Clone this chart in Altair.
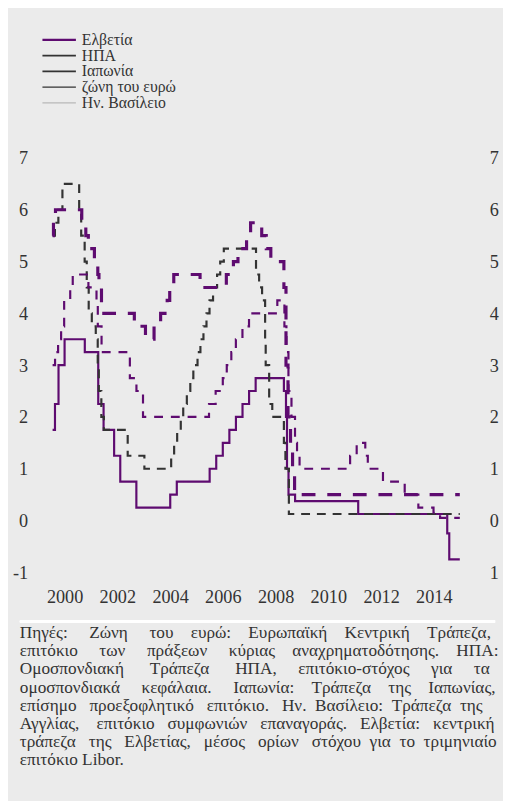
import altair as alt
import pandas as pd

# ---------------- data (step changes: date, rate) ----------------
end_date = "2015-06-10"

swiss_dates = ["2000-01-01", "2000-02-03", "2000-03-23", "2000-06-15", "2001-03-22", "2001-09-24",
               "2001-12-07", "2002-05-02", "2002-07-26", "2003-03-06", "2004-06-17", "2004-09-16",
               "2005-12-15", "2006-03-16", "2006-06-15", "2006-09-14", "2006-12-14", "2007-03-15",
               "2007-06-14", "2007-09-13", "2008-10-08", "2008-11-06", "2008-11-20", "2008-12-11",
               "2009-03-12", "2011-08-03", "2014-12-18", "2015-01-15"]
swiss_rates = [1.75, 2.25, 3.0, 3.5, 3.25, 2.25,
               1.75, 1.25, 0.75, 0.25, 0.5, 0.75,
               1.0, 1.25, 1.5, 1.75, 2.0, 2.25,
               2.5, 2.75, 2.5, 2.0, 1.0, 0.5,
               0.375, 0.125, -0.25, -0.75]

usa_dates = ["2000-01-01", "2000-02-02", "2000-03-21", "2000-05-16", "2001-01-03", "2001-01-31",
             "2001-03-20", "2001-04-18", "2001-05-15", "2001-06-27", "2001-08-21", "2001-09-17",
             "2001-10-02", "2001-11-06", "2001-12-11", "2002-11-06", "2003-06-25", "2004-06-30",
             "2004-08-10", "2004-09-21", "2004-11-10", "2004-12-14", "2005-02-02", "2005-03-22",
             "2005-05-03", "2005-06-30", "2005-08-09", "2005-09-20", "2005-11-01", "2005-12-13",
             "2006-01-31", "2006-03-28", "2006-05-10", "2006-06-29", "2007-09-18", "2007-10-31",
             "2007-12-11", "2008-01-22", "2008-01-30", "2008-03-18", "2008-04-30", "2008-10-08",
             "2008-10-29", "2008-12-16"]
usa_rates = [5.5, 5.75, 6.0, 6.5, 6.0, 5.5,
             5.0, 4.5, 4.0, 3.75, 3.5, 3.0,
             2.5, 2.0, 1.75, 1.25, 1.0, 1.25,
             1.5, 1.75, 2.0, 2.25, 2.5, 2.75,
             3.0, 3.25, 3.5, 3.75, 4.0, 4.25,
             4.5, 4.75, 5.0, 5.25, 4.75, 4.5,
             4.25, 3.5, 3.0, 2.25, 2.0, 1.5,
             1.0, 0.125]

euro_dates = ["2000-01-01", "2000-02-04", "2000-03-17", "2000-04-28", "2000-06-09", "2000-09-01",
              "2000-10-06", "2001-05-11", "2001-08-31", "2001-09-18", "2001-11-09", "2002-12-06",
              "2003-03-07", "2003-06-06", "2005-12-06", "2006-03-08", "2006-06-15", "2006-08-09",
              "2006-10-11", "2006-12-13", "2007-03-14", "2007-06-13", "2008-07-09", "2008-10-15",
              "2008-11-12", "2008-12-10", "2009-01-21", "2009-03-11", "2009-04-08", "2009-05-13",
              "2011-04-13", "2011-07-13", "2011-11-09", "2011-12-14", "2012-07-11", "2013-05-08",
              "2013-11-13", "2014-06-11", "2014-09-10"]
euro_rates = [3.0, 3.25, 3.5, 3.75, 4.25, 4.5,
              4.75, 4.5, 4.25, 3.75, 3.25, 2.75,
              2.5, 2.0, 2.25, 2.5, 2.75, 3.0,
              3.25, 3.5, 3.75, 4.0, 4.25, 3.75,
              3.25, 2.5, 2.0, 1.5, 1.25, 1.0,
              1.25, 1.5, 1.25, 1.0, 0.75, 0.5,
              0.25, 0.15, 0.05]

uk_dates = ["2000-01-01", "2000-01-13", "2000-02-10", "2001-02-08", "2001-04-05", "2001-05-10",
            "2001-08-02", "2001-09-18", "2001-10-04", "2001-11-08", "2003-02-06", "2003-07-10",
            "2003-11-06", "2004-02-05", "2004-05-06", "2004-06-10", "2004-08-05", "2005-08-04",
            "2006-08-03", "2006-11-09", "2007-01-11", "2007-05-10", "2007-07-05", "2007-12-06",
            "2008-02-07", "2008-04-10", "2008-10-08", "2008-11-06", "2008-12-04", "2009-01-08",
            "2009-02-05", "2009-03-05"]
uk_rates = [5.5, 5.75, 6.0, 5.75, 5.5, 5.25,
            5.0, 4.75, 4.5, 4.0, 3.75, 3.5,
            3.75, 4.0, 4.25, 4.5, 4.75, 4.5,
            4.75, 5.0, 5.25, 5.5, 5.75, 5.5,
            5.25, 5.0, 4.5, 3.0, 2.0, 1.5,
            1.0, 0.5]

legend_names = ["Ελβετία", "ΗΠΑ", "Ιαπωνία", "ζώνη του ευρώ", "Ην. Βασίλειο"]

x_label_years = [2000, 2002, 2004, 2006, 2008, 2010, 2012, 2014]
y_ticks = [-1, 0, 1, 2, 3, 4, 5, 6, 7]

footnote_lines = [
    "Πηγές: Ζώνη του ευρώ: Ευρωπαϊκή Κεντρική Τράπεζα,",
    "επιτόκιο των πράξεων κύριας αναχρηματοδότησης. ΗΠΑ:",
    "Ομοσπονδιακή Τράπεζα ΗΠΑ, επιτόκιο-στόχος για τα",
    "ομοσπονδιακά κεφάλαια. Ιαπωνία: Τράπεζα της Ιαπωνίας,",
    "επίσημο προεξοφλητικό επιτόκιο. Ην. Βασίλειο: Τράπεζα της",
    "Αγγλίας, επιτόκιο συμφωνιών επαναγοράς. Ελβετία: κεντρική",
    "τράπεζα της Ελβετίας, μέσος ορίων στόχου για το τριμηνιαίο",
    "επιτόκιο Libor.",
]
# extra (non-breaking) spaces per line, spread over its word gaps (justified paragraph)
justify_extra = [20, 18, 22, 17, 9, 11, 13, 0]

# ---------------- build tables ----------------
def series_frame(name, dates, rates):
    d = list(dates) + [end_date]
    r = list(rates) + [rates[-1]]
    return pd.DataFrame({"series": name, "date": d, "rate": r})

lines_df = pd.concat([
    series_frame("swiss", swiss_dates, swiss_rates),
    series_frame("usa", usa_dates, usa_rates),
    series_frame("euro", euro_dates, euro_rates),
    series_frame("uk", uk_dates, uk_rates),
], ignore_index=True)

def justify(line, total):
    words = line.split(" ")
    gaps = len(words) - 1
    if total == 0 or gaps == 0:
        return line
    out = words[0]
    for i, w in enumerate(words[1:]):
        n = total // gaps + (1 if i < total % gaps else 0)
        out += " " + "\u00a0" * n + w
    return out

legend_df = pd.DataFrame({"name": legend_names, "idx": list(range(len(legend_names)))})
foot_df = pd.DataFrame({"line": [justify(l, n) for l, n in zip(footnote_lines, justify_extra)],
                        "idx": list(range(len(footnote_lines)))})

PURPLE = "#5e0b70"
DARK = "#333333"
FONT = "'Liberation Serif', 'Times New Roman', 'DejaVu Serif', serif"
W, H = 454, 421

x_scale = alt.Scale(domain=[alt.DateTime(year=1999, month=5, date=10),
                            alt.DateTime(year=2016, month=4, date=17)])
y_scale = alt.Scale(domain=[-1, 7], nice=False, zero=False)

x_enc = alt.X("date:T", scale=x_scale,
              axis=alt.Axis(values=[alt.DateTime(year=y, month=6, date=15) for y in x_label_years],
                            format="%Y", title=None, domain=False, ticks=False, grid=False,
                            labelFont=FONT, labelFontSize=18.5, labelColor=DARK,
                            labelPadding=16, labelFlush=False))

base = alt.Chart(lines_df)

def line_layer(name, dash, width, color, axis):
    return base.transform_filter(alt.datum.series == name).mark_line(
        interpolate="step-after", strokeDash=dash, strokeWidth=width, color=color,
        strokeCap="butt", clip=False
    ).encode(
        x=x_enc,
        y=alt.Y("rate:Q", scale=y_scale, axis=axis),
    )

left_axis = alt.Axis(values=y_ticks, title=None, domain=False, ticks=False, grid=False,
                     labelFont=FONT, labelFontSize=18.5, labelColor=DARK, labelPadding=8,
                     labelExpr="toString(datum.value)", orient="left")
right_axis = alt.Axis(values=y_ticks, title=None, domain=False, ticks=False, grid=False,
                      labelFont=FONT, labelFontSize=18.5, labelColor=DARK, labelPadding=7,
                      labelExpr="toString(abs(datum.value))", orient="right")

swiss = line_layer("swiss", [1, 0], 2.2, PURPLE, left_axis)
usa = line_layer("usa", [9, 7], 2.2, DARK, None)
euro = line_layer("euro", [9, 8], 2.2, PURPLE, None)
uk = line_layer("uk", [14, 12], 3.2, PURPLE, None)

right = base.transform_filter(alt.datum.series == "swiss").mark_line(opacity=0).encode(
    x=alt.X("date:T", scale=x_scale),
    y=alt.Y("rate:Q", scale=y_scale, axis=right_axis),
)

# ---------------- legend (manual, above the plot) ----------------
leg_y = alt.Y("idx:Q", scale=alt.Scale(domain=[0, 4], range=[-120, -56]), axis=None)
leg_lines = alt.Chart(legend_df).mark_rule().encode(
    x=alt.value(7), x2=alt.value(41), y=leg_y,
    color=alt.Color("name:N", scale=alt.Scale(domain=legend_names,
                    range=[PURPLE, DARK, DARK, DARK, "#b8b8b8"]), legend=None),
    strokeWidth=alt.StrokeWidth("name:N", scale=alt.Scale(domain=legend_names,
                    range=[2.2, 1.1, 3.6, 1.1, 1.1]), legend=None),
)
leg_text = alt.Chart(legend_df).mark_text(align="left", baseline="middle", font=FONT,
                                          fontSize=16, color=DARK).encode(
    x=alt.value(47), y=leg_y, text="name:N")

# ---------------- footnote ----------------
sep = alt.Chart(legend_df).mark_rule(color="white", strokeWidth=2).encode(
    x=alt.value(-16), x2=alt.value(467), y=alt.value(471))
foot_y = alt.Y("idx:Q", scale=alt.Scale(domain=[0, 7], range=[483, 612]), axis=None)
foot = alt.Chart(foot_df).mark_text(align="left", baseline="middle", font=FONT,
                                    fontSize=17.5, color=DARK).encode(
    x=alt.value(-16), y=foot_y, text="line:N")

chart = alt.layer(
    swiss, usa, euro, uk, right, leg_lines, leg_text, sep, foot
).resolve_scale(
    y="independent", color="independent", strokeWidth="independent"
).resolve_axis(y="independent").properties(
    width=W, height=H,
    autosize=alt.AutoSizeParams(type="none"),
    padding={"left": 28, "top": 146, "right": 21, "bottom": 226},
    background="#ebebeb",
).configure_view(stroke=None)

chart.save("out.html", embed_options={"renderer": "svg", "actions": False})
